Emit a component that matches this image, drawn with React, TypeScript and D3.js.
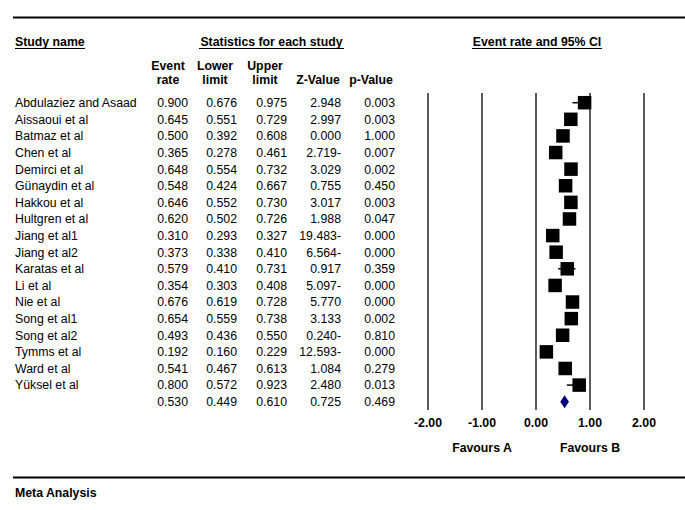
import React from "react";
import * as d3 from "d3";

const studies = [
  "Abdulaziez and Asaad", "Aissaoui et al", "Batmaz et al", "Chen et al", "Demirci et al",
  "Günaydin et al", "Hakkou et al", "Hultgren et al", "Jiang et al1", "Jiang et al2",
  "Karatas et al", "Li et al", "Nie et al", "Song et al1", "Song et al2",
  "Tymms et al", "Ward et al", "Yüksel et al",
];
const eventRate = [0.900, 0.645, 0.500, 0.365, 0.648, 0.548, 0.646, 0.620, 0.310, 0.373, 0.579, 0.354, 0.676, 0.654, 0.493, 0.192, 0.541, 0.800];
const lowerLimit = [0.676, 0.551, 0.392, 0.278, 0.554, 0.424, 0.552, 0.502, 0.293, 0.338, 0.410, 0.303, 0.619, 0.559, 0.436, 0.160, 0.467, 0.572];
const upperLimit = [0.975, 0.729, 0.608, 0.461, 0.732, 0.667, 0.730, 0.726, 0.327, 0.410, 0.731, 0.408, 0.728, 0.738, 0.550, 0.229, 0.613, 0.923];
const zValue = ["2.948", "2.997", "0.000", "2.719-", "3.029", "0.755", "3.017", "1.988", "19.483-", "6.564-", "0.917", "5.097-", "5.770", "3.133", "0.240-", "12.593-", "1.084", "2.480"];
const pValue = ["0.003", "0.003", "1.000", "0.007", "0.002", "0.450", "0.003", "0.047", "0.000", "0.000", "0.359", "0.000", "0.000", "0.002", "0.810", "0.000", "0.279", "0.013"];
const summary = { rate: 0.530, lower: 0.449, upper: 0.610, z: "0.725", p: "0.469" };
const ticks = [-2, -1, 0, 1, 2];

const FONT = "'Liberation Sans', Arial, Helvetica, sans-serif";

export default function App() {
  const W = 685, H = 510;
  const x = d3.scaleLinear().domain([-2, 2]).range([428, 644]);
  const y = d3.scaleLinear().domain([0, 18]).range([102.7, 401.7]);
  const fmt = d3.format(".3f");
  const sq = 13.5;
  const colRight = [188, 237, 287, 341, 395];
  const fs = 12.3;

  const rows = studies.map((s, i) => ({
    name: s,
    vals: [fmt(eventRate[i]), fmt(lowerLimit[i]), fmt(upperLimit[i]), zValue[i], pValue[i]],
    rate: eventRate[i], lo: lowerLimit[i], hi: upperLimit[i],
  }));
  const sumVals = [fmt(summary.rate), fmt(summary.lower), fmt(summary.upper), summary.z, summary.p];
  const ys = y(18);
  const diamond = d3.line()([
    [x(summary.lower), ys], [x(summary.rate), ys - 6.5], [x(summary.upper), ys], [x(summary.rate), ys + 6.5],
  ]) + "Z";

  const headerCols = [
    { c: 168, l1: "Event", l2: "rate" },
    { c: 215, l1: "Lower", l2: "limit" },
    { c: 265, l1: "Upper", l2: "limit" },
    { c: 318, l1: "", l2: "Z-Value" },
    { c: 371, l1: "", l2: "p-Value" },
  ];

  return (
    <svg width={W} height={H} style={{ position: "absolute", left: 0, top: 0, background: "#fff" }} fontFamily={FONT}>
      <rect width={W} height={H} fill="#fff" />
      <line x1={13} x2={685} y1={17.5} y2={17.5} stroke="#000" strokeWidth={2} />
      <line x1={13} x2={685} y1={477.5} y2={477.5} stroke="#000" strokeWidth={2} />

      <g fontSize={fs} fontWeight="bold" fill="#000">
        <text x={15} y={46}>Study name</text>
        <line x1={15} x2={85} y1={48.5} y2={48.5} stroke="#000" strokeWidth={1} />
        <text x={271.5} y={46} textAnchor="middle">Statistics for each study</text>
        <line x1={199} x2={344} y1={48.5} y2={48.5} stroke="#000" strokeWidth={1} />
        <text x={537} y={46} textAnchor="middle">Event rate and 95% CI</text>
        <line x1={472} x2={602} y1={48.5} y2={48.5} stroke="#000" strokeWidth={1} />
        {headerCols.map((h, i) => (
          <g key={i}>
            {h.l1 && <text x={h.c} y={70} textAnchor="middle">{h.l1}</text>}
            <text x={h.c} y={84} textAnchor="middle">{h.l2}</text>
          </g>
        ))}
      </g>

      <g fontSize={fs} fill="#000">
        {rows.map((r, i) => (
          <g key={i}>
            <text x={15} y={y(i) + 4.4}>{r.name}</text>
            {r.vals.map((v, j) => (
              <text key={j} x={colRight[j]} y={y(i) + 4.4} textAnchor="end">{v}</text>
            ))}
          </g>
        ))}
        {sumVals.map((v, j) => (
          <text key={j} x={colRight[j]} y={ys + 4.4} textAnchor="end">{v}</text>
        ))}
      </g>

      {ticks.map((t) => (
        <line key={t} x1={x(t)} x2={x(t)} y1={93} y2={410} stroke="#333" strokeWidth={1.6} />
      ))}

      {rows.map((r, i) => (
        <g key={i}>
          <line x1={x(r.lo)} x2={x(r.hi)} y1={y(i)} y2={y(i)} stroke="#000" strokeWidth={1.5} />
          <rect x={x(r.rate) - sq / 2} y={y(i) - sq / 2} width={sq} height={sq} fill="#000" />
        </g>
      ))}
      <path d={diamond} fill="#000080" />

      <g fontSize={fs} fontWeight="bold" fill="#000" textAnchor="middle">
        {ticks.map((t) => (
          <text key={t} x={x(t)} y={427}>{d3.format(".2f")(t).replace("−", "-")}</text>
        ))}
        <text x={x(-1)} y={452}>Favours A</text>
        <text x={x(1)} y={452}>Favours B</text>
      </g>

      <text x={15} y={497} fontSize={fs} fontWeight="bold" fill="#000">Meta Analysis</text>
    </svg>
  );
}
